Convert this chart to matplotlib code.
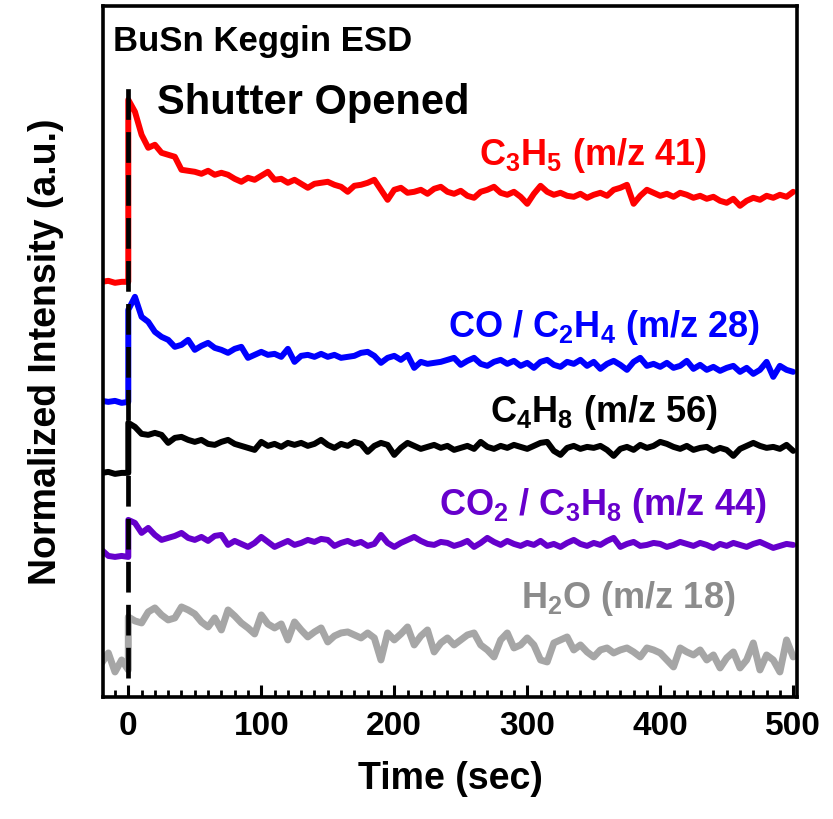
import numpy as np
import matplotlib.pyplot as plt

plt.rcParams['font.family'] = ['Liberation Sans', 'DejaVu Sans']
plt.rcParams['font.weight'] = 'bold'
plt.rcParams['mathtext.default'] = 'regular'

# time (sec): baseline before the shutter opens, then 5 s steps after
t_before = np.array([-20, -15, -10, -5, 0])
t_after = np.arange(0, 505, 5)
shutter_time = 0

# stacked intensities (a.u.), each trace offset so they don't overlap
c3h5_before = [415, 416, 414, 415, 415]
c3h5_after = [
    597, 585, 562, 549, 552, 544, 542, 540, 527, 526,
    525, 523, 526, 522, 524, 522, 518, 515, 519, 517,
    521, 525, 517, 518, 514, 517, 513, 509, 513, 514,
    515, 512, 510, 505, 511, 512, 514, 517, 507, 497,
    507, 509, 504, 505, 507, 503, 508, 510, 505, 503,
    506, 501, 499, 505, 507, 510, 504, 502, 505, 500,
    493, 503, 511, 505, 502, 504, 501, 500, 503, 499,
    502, 504, 501, 507, 509, 512, 493, 501, 507, 504,
    501, 503, 500, 504, 502, 499, 501, 498, 500, 496,
    494, 498, 491, 496, 499, 497, 501, 499, 502, 500,
    505]

co_before = [296, 295, 296, 294, 295]
co_after = [
    387, 400, 380, 375, 365, 360, 357, 350, 352, 357,
    347, 351, 354, 349, 347, 344, 348, 350, 339, 342,
    345, 342, 343, 340, 348, 335, 341, 342, 340, 343,
    340, 342, 339, 340, 341, 344, 345, 341, 334, 339,
    341, 337, 342, 329, 335, 333, 334, 335, 337, 339,
    332, 336, 339, 333, 331, 335, 337, 333, 336, 331,
    334, 329, 335, 337, 332, 330, 335, 333, 337, 331,
    335, 328, 333, 336, 332, 327, 335, 339, 331, 333,
    330, 334, 329, 331, 336, 328, 332, 327, 330, 326,
    329, 331, 325, 329, 323, 327, 335, 320, 331, 327,
    325]

c4h8_before = [224, 225, 223, 224, 224]
c4h8_after = [
    274, 270, 263, 262, 264, 262, 254, 259, 260, 257,
    255, 257, 253, 252, 255, 257, 253, 251, 249, 247,
    255, 251, 253, 250, 254, 252, 254, 251, 253, 257,
    252, 249, 253, 251, 255, 253, 245, 251, 254, 252,
    242, 249, 254, 251, 248, 250, 252, 249, 251, 247,
    249, 251, 248, 255, 250, 248, 251, 249, 252, 250,
    248, 251, 254, 255, 246, 242, 249, 251, 248, 250,
    249, 251, 247, 241, 248, 250, 247, 252, 249, 251,
    255, 253, 250, 248, 251, 247, 249, 250, 246, 249,
    247, 241, 248, 251, 254, 251, 249, 250, 248, 252,
    246]

co2_before = [147, 141, 140, 141, 140]
co2_after = [
    177, 174, 164, 169, 162, 157, 159, 161, 164, 159,
    157, 160, 156, 161, 162, 152, 156, 153, 150, 154,
    160, 155, 150, 153, 156, 152, 154, 157, 155, 158,
    157, 151, 154, 156, 153, 155, 151, 153, 162, 154,
    150, 154, 157, 160, 156, 153, 152, 155, 154, 151,
    153, 156, 150, 154, 159, 155, 152, 156, 153, 151,
    154, 152, 156, 151, 153, 150, 154, 157, 153, 151,
    154, 152, 156, 159, 150, 153, 155, 151, 152, 154,
    153, 150, 152, 155, 153, 151, 154, 152, 149, 153,
    151, 154, 152, 150, 153, 155, 152, 149, 151, 153,
    152]

h2o_before = [34, 44, 25, 37, 27]
h2o_after = [
    80, 76, 74, 85, 89, 82, 77, 79, 90, 87,
    83, 75, 70, 79, 67, 87, 81, 74, 69, 63,
    82, 73, 69, 73, 57, 75, 67, 60, 65, 69,
    55, 61, 64, 65, 62, 59, 64, 59, 37, 64,
    57, 63, 70, 52, 61, 67, 45, 54, 59, 52,
    57, 62, 64, 52, 47, 40, 57, 64, 49, 52,
    59, 52, 37, 35, 54, 57, 60, 47, 52, 45,
    40, 47, 49, 44, 47, 49, 45, 40, 49, 47,
    44, 37, 30, 49, 45, 42, 47, 37, 42, 29,
    39, 45, 29, 37, 54, 27, 42, 37, 25, 57,
    40]

labels = [r'C$_3$H$_5$ (m/z 41)',
          r'CO / C$_2$H$_4$ (m/z 28)',
          r'C$_4$H$_8$ (m/z 56)',
          r'CO$_2$ / C$_3$H$_8$ (m/z 44)',
          r'H$_2$O (m/z 18)']
line_colors = ['#ff0000', '#0000ff', '#000000', '#6600cc', '#a6a6a6']
text_colors = ['#ff0000', '#0000ff', '#000000', '#6600cc', '#8c8c8c']
line_widths = [4.3, 4.3, 4.3, 4.3, 5.0]
befores = [c3h5_before, co_before, c4h8_before, co2_before, h2o_before]
afters = [c3h5_after, co_after, c4h8_after, co2_after, h2o_after]
# where each label sits (time, intensity)
label_pos = [(349, 532), (358, 360), (358, 275), (357, 182), (376, 89)]

fig = plt.figure(figsize=(8.33, 8.19), dpi=100)
ax = fig.add_axes([0.124, 0.149, 0.833, 0.844])

for pre, post, c, w in zip(befores, afters, line_colors, line_widths):
    x = np.concatenate([t_before, t_after])
    y = np.concatenate([pre, post])
    ax.plot(x, y, color=c, lw=w, solid_joinstyle='round',
            solid_capstyle='round')

for lab, c, (lx, ly) in zip(labels, text_colors, label_pos):
    ax.text(lx, ly, lab, color=c, fontsize=26, fontweight='bold',
            ha='center', va='baseline')

ax.set_xlim(-18.8, 503)
ax.set_ylim(0, 691)

# shutter marker
ax.axvline(shutter_time, ymin=0.028, ymax=0.89, color='black', lw=3.4,
           dashes=(6.5, 2.6), zorder=5)

ax.text(0.014, 0.935, 'BuSn Keggin ESD', transform=ax.transAxes,
        fontsize=25, fontweight='bold', va='baseline', ha='left')
ax.text(0.078, 0.843, 'Shutter Opened', transform=ax.transAxes,
        fontsize=30, fontweight='bold', va='baseline', ha='left')

ax.set_xticks(np.arange(0, 501, 100))
ax.set_xticks(np.arange(-10, 501, 10), minor=True)
ax.set_yticks([])
ax.tick_params(axis='x', which='major', direction='in', length=9, width=2.2,
               labelsize=24, pad=10)
ax.tick_params(axis='x', which='minor', direction='in', length=5, width=2)
for lbl in ax.get_xticklabels():
    lbl.set_fontweight('bold')
for sp in ax.spines.values():
    sp.set_linewidth(2.6)

ax.set_xlabel('Time (sec)', fontsize=27, fontweight='bold', labelpad=14)
ax.set_ylabel('Normalized Intensity (a.u.)', fontsize=27, fontweight='bold',
              labelpad=28)

fig.savefig('out.png', dpi=100)
